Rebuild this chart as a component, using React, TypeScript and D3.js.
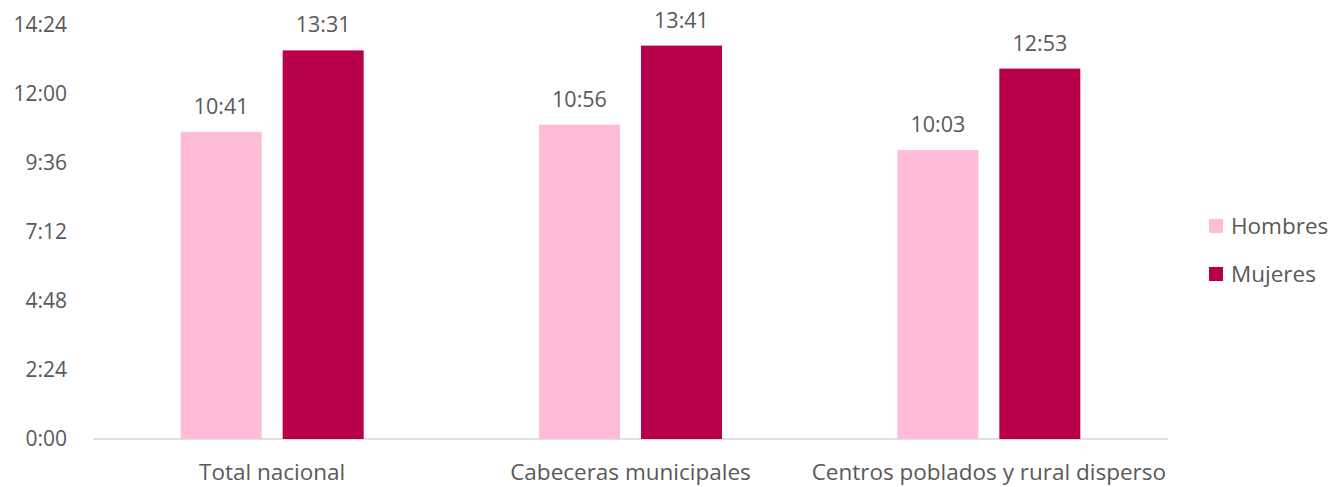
import React from "react";
import * as d3 from "d3";

const categories = ["Total nacional", "Cabeceras municipales", "Centros poblados y rural disperso"];
const seriesNames = ["Hombres", "Mujeres"];
const hombres = [641, 656, 603]; // minutes
const mujeres = [811, 821, 773];
const yTicks = [0, 144, 288, 432, 576, 720, 864];

const colors = ["#FFBCD9", "#B8004A"];
const W = 1328, H = 487;
const fmt = (m: number) => `${Math.floor(m / 60)}:${String(m % 60).padStart(2, "0")}`;
const FONT = "'Open Sans', sans-serif";
const TXT = "#595959";

export default function App() {
  const x0 = d3.scaleBand().domain(categories).range([93, 1168]).paddingInner(0).paddingOuter(0);
  const y = d3.scaleLinear().domain([0, 864]).range([439, 25]);
  const bw = 81, gap = 21;
  const series = [hombres, mujeres];
  return (
    <svg width={W} height={H} style={{ position: "absolute", left: 0, top: 0, background: "#fff" }} fontFamily={FONT}>
      <line x1={93} x2={1168} y1={y(0)} y2={y(0)} stroke="#d9d9d9" strokeWidth={1.5} />
      {yTicks.map((t) => (
        <text key={t} x={67} y={y(t)} dy="0.35em" textAnchor="end" fontSize={21} fill={TXT}>{fmt(t)}</text>
      ))}
      {categories.map((c, i) => {
        const cx = (x0(c) as number) + x0.bandwidth() / 2;
        return (
          <g key={c}>
            {series.map((s, j) => {
              const bx = cx - gap / 2 - bw + j * (bw + gap);
              return (
                <g key={j}>
                  <rect x={bx} y={y(s[i])} width={bw} height={y(0) - y(s[i])} fill={colors[j]} />
                  <text x={bx + bw / 2} y={y(s[i]) - 18} textAnchor="middle" fontSize={21.5} fill={TXT}>{fmt(s[i])}</text>
                </g>
              );
            })}
            <text x={cx} y={480} textAnchor="middle" fontSize={22.5} fill={TXT}>{c}</text>
          </g>
        );
      })}
      {seriesNames.map((n, j) => (
        <g key={n} transform={`translate(1209, ${219 + j * 48})`}>
          <rect width={14} height={14} fill={colors[j]} />
          <text x={22} y={7} dy="0.35em" fontSize={22.5} fill={TXT}>{n}</text>
        </g>
      ))}
    </svg>
  );
}
